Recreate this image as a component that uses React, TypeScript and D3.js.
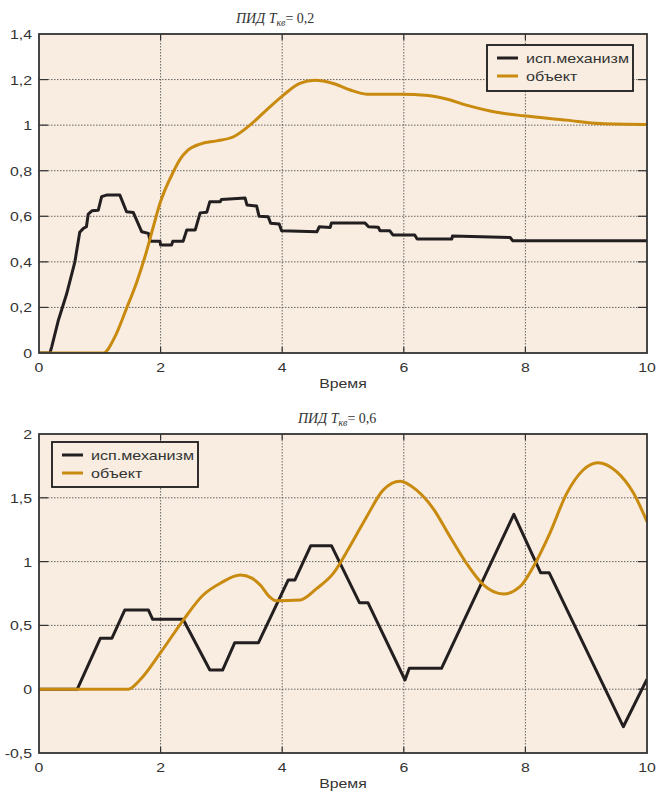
import React from "react";
import * as d3 from "d3";

// ---- data ----
const topActT = [0, 0.18, 0.21, 0.32, 0.455, 0.59, 0.67, 0.73, 0.78, 0.81, 0.87, 0.975, 1.03, 1.11, 1.33, 1.44, 1.55, 1.69, 1.8, 1.83, 1.99, 2.0, 2.18, 2.2, 2.37, 2.43, 2.57, 2.65, 2.76, 2.81, 2.98, 3.0, 3.39, 3.42, 3.58, 3.62, 3.77, 3.81, 3.95, 3.99, 4.57, 4.61, 4.79, 4.81, 5.36, 5.42, 5.58, 5.61, 5.77, 5.82, 6.18, 6.22, 6.79, 6.8, 7.75, 7.79, 10];
const topActV = [0, 0, 0.028, 0.145, 0.26, 0.4, 0.53, 0.547, 0.554, 0.61, 0.624, 0.627, 0.686, 0.693, 0.693, 0.62, 0.617, 0.532, 0.525, 0.49, 0.49, 0.474, 0.474, 0.49, 0.49, 0.54, 0.54, 0.615, 0.618, 0.664, 0.664, 0.674, 0.68, 0.65, 0.645, 0.6, 0.598, 0.569, 0.566, 0.536, 0.532, 0.554, 0.551, 0.571, 0.571, 0.554, 0.552, 0.536, 0.536, 0.518, 0.518, 0.5, 0.5, 0.513, 0.507, 0.493, 0.493];

const topObjT = [0, 1.06, 1.25, 1.44, 1.61, 1.74, 1.88, 1.99, 2.2, 2.32, 2.45, 2.65, 2.92, 3.2, 3.47, 3.74, 4.02, 4.29, 4.54, 4.84, 5.12, 5.39, 5.94, 6.4, 6.7, 7.03, 7.58, 7.97, 8.68, 9.23, 10];
const topObjV = [0, 0, 0.072, 0.196, 0.313, 0.42, 0.554, 0.657, 0.79, 0.85, 0.89, 0.917, 0.931, 0.949, 1.0, 1.066, 1.132, 1.183, 1.197, 1.183, 1.154, 1.136, 1.136, 1.13, 1.115, 1.088, 1.054, 1.041, 1.022, 1.007, 1.003];

const botActT = [0, 0.63, 1.01, 1.2, 1.41, 1.8, 1.87, 2.37, 2.81, 3.02, 3.22, 3.61, 4.1, 4.21, 4.47, 4.81, 5.27, 5.41, 6.02, 6.09, 6.62, 7.81, 8.25, 8.39, 9.61, 10];
const botActV = [0, 0, 0.4, 0.4, 0.62, 0.62, 0.548, 0.548, 0.15, 0.15, 0.365, 0.365, 0.856, 0.856, 1.125, 1.125, 0.678, 0.678, 0.072, 0.164, 0.164, 1.37, 0.913, 0.913, -0.294, 0.078];

const botObjT = [0, 1.47, 1.66, 1.99, 2.37, 2.7, 2.98, 3.31, 3.5, 3.65, 3.78, 3.9, 4.3, 4.57, 4.84, 5.11, 5.39, 5.66, 5.94, 6.21, 6.48, 6.76, 7.03, 7.31, 7.64, 7.91, 8.13, 8.4, 8.68, 8.95, 9.19, 9.5, 9.78, 10];
const botObjV = [0, 0, 0.072, 0.28, 0.54, 0.738, 0.83, 0.895, 0.87, 0.81, 0.73, 0.694, 0.7, 0.79, 0.908, 1.117, 1.352, 1.56, 1.63, 1.56, 1.418, 1.195, 0.987, 0.817, 0.746, 0.803, 0.96, 1.22, 1.535, 1.718, 1.775, 1.705, 1.535, 1.313];

const xTicks = [0, 2, 4, 6, 8, 10];
const topYTicks = [0, 0.2, 0.4, 0.6, 0.8, 1, 1.2, 1.4];
const botYTicks = [-0.5, 0, 0.5, 1, 1.5, 2];
const seriesNames = ["исп.механизм", "объект"];
const xLabel = "Время";

const BLACK = "#231f20";
const GOLD = "#c98a10";
const BG = "#f8ede0";
const AX = "#333333";

const fmt = (v: number) => String(v).replace(".", ",");

function SText(props: { x: number; y: number; anchor?: string; children: any; size?: number }) {
  const { x, y, anchor = "middle", children, size = 13 } = props;
  return (
    <text
      transform={`translate(${x},${y}) scale(1.22,1)`}
      textAnchor={anchor}
      fontFamily="'Liberation Sans', Arial, sans-serif"
      fontSize={size}
      fill={AX}
    >
      {children}
    </text>
  );
}

function Panel(props: {
  top: number;
  bottom: number;
  yDomain: [number, number];
  yTicks: number[];
  act: [number[], number[]];
  obj: [number[], number[]];
  legend: { x: number; y: number; w: number; h: number };
  title: { x: number; y: number; val: string };
  xLabelY: number;
}) {
  const { top, bottom, yDomain, yTicks, act, obj, legend, title, xLabelY } = props;
  const left = 39;
  const right = 647;
  const x = d3.scaleLinear().domain([0, 10]).range([left, right]);
  const y = d3.scaleLinear().domain(yDomain).range([bottom, top]);
  const mk = (t: number[], v: number[]) => t.map((tt, i) => [tt, v[i]] as [number, number]);
  const lineAct = d3.line<[number, number]>().x((d) => x(d[0])).y((d) => y(d[1])).curve(d3.curveLinear);
  const lineObj = d3.line<[number, number]>().x((d) => x(d[0])).y((d) => y(d[1])).curve(d3.curveMonotoneX);
  const clipId = `clip${top}`;
  return (
    <g>
      <defs>
        <clipPath id={clipId}>
          <rect x={left} y={top} width={right - left} height={bottom - top} />
        </clipPath>
      </defs>
      <rect x={left} y={top} width={right - left} height={bottom - top} fill={BG} />
      {/* grid */}
      {xTicks.slice(1, -1).map((t) => (
        <line key={"gx" + t} x1={x(t)} x2={x(t)} y1={top} y2={bottom} stroke="#555" strokeWidth={0.9} strokeDasharray="1.5,1.5" />
      ))}
      {yTicks.slice(1, -1).map((t) => (
        <line key={"gy" + t} x1={left} x2={right} y1={y(t)} y2={y(t)} stroke="#555" strokeWidth={0.9} strokeDasharray="1.5,1.5" />
      ))}
      {/* ticks */}
      {xTicks.slice(1, -1).map((t) => (
        <g key={"tx" + t}>
          <line x1={x(t)} x2={x(t)} y1={top} y2={top + 6} stroke={AX} strokeWidth={1.2} />
          <line x1={x(t)} x2={x(t)} y1={bottom} y2={bottom - 6} stroke={AX} strokeWidth={1.2} />
        </g>
      ))}
      {yTicks.slice(1, -1).map((t) => (
        <g key={"ty" + t}>
          <line x1={left} x2={left + 9} y1={y(t)} y2={y(t)} stroke={AX} strokeWidth={1.2} />
          <line x1={right} x2={right - 9} y1={y(t)} y2={y(t)} stroke={AX} strokeWidth={1.2} />
        </g>
      ))}
      <g clipPath={`url(#${clipId})`}>
        <path d={lineAct(mk(act[0], act[1])) || ""} fill="none" stroke={BLACK} strokeWidth={3} strokeLinejoin="round" />
        <path d={lineObj(mk(obj[0], obj[1])) || ""} fill="none" stroke={GOLD} strokeWidth={3} strokeLinejoin="round" />
      </g>
      <rect x={left} y={top} width={right - left} height={bottom - top} fill="none" stroke={AX} strokeWidth={1.8} />
      {/* tick labels */}
      {xTicks.map((t) => (
        <SText key={"lx" + t} x={x(t)} y={bottom + 19}>
          {fmt(t)}
        </SText>
      ))}
      {yTicks.map((t) => (
        <SText key={"ly" + t} x={32} y={y(t) + 5} anchor="end">
          {fmt(t)}
        </SText>
      ))}
      <SText x={343} y={xLabelY}>
        {xLabel}
      </SText>
      {/* legend */}
      <rect x={legend.x} y={legend.y} width={legend.w} height={legend.h} fill={BG} stroke="#1a1a1a" strokeWidth={1.8} />
      {[BLACK, GOLD].map((c, i) => {
        const ly = legend.y + 13 + i * 18;
        return (
          <g key={"lg" + i}>
            <line x1={legend.x + 10} x2={legend.x + 31} y1={ly} y2={ly} stroke={c} strokeWidth={3} />
            <SText x={legend.x + 39} y={ly + 5} anchor="start" size={13.2}>
              {seriesNames[i]}
            </SText>
          </g>
        );
      })}
      {/* title */}
      <text
        x={title.x}
        y={title.y}
        fontFamily="'Liberation Serif', 'Times New Roman', serif"
        fontSize={14}
        fill={AX}
      >
        <tspan fontStyle="italic">ПИД T</tspan>
        <tspan fontStyle="italic" fontSize={10} dy={3}>кв</tspan>
        <tspan dy={-3}>{"= " + title.val}</tspan>
      </text>
    </g>
  );
}

export default function App() {
  return (
    <svg width={656} height={792} style={{ position: "absolute", left: 0, top: 0, background: "#fff" }}>
      <rect width={656} height={792} fill="#fff" />
      <Panel
        top={34}
        bottom={353}
        yDomain={[0, 1.4]}
        yTicks={topYTicks}
        act={[topActT, topActV]}
        obj={[topObjT, topObjV]}
        legend={{ x: 487, y: 45, w: 146, h: 46 }}
        title={{ x: 236, y: 23, val: "0,2" }}
        xLabelY={388}
      />
      <Panel
        top={434}
        bottom={753}
        yDomain={[-0.5, 2]}
        yTicks={botYTicks}
        act={[botActT, botActV]}
        obj={[botObjT, botObjV]}
        legend={{ x: 52, y: 442, w: 146, h: 45 }}
        title={{ x: 298, y: 423, val: "0,6" }}
        xLabelY={788}
      />
    </svg>
  );
}
